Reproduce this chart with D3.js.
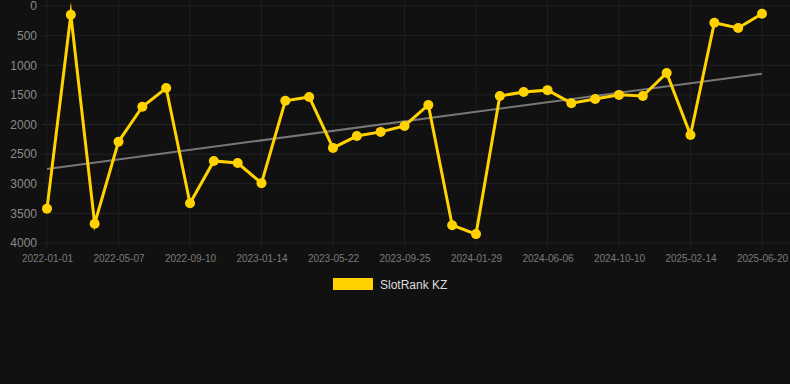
<!DOCTYPE html>
<html>
<head>
<meta charset="utf-8">
<script src="https://cdn.jsdelivr.net/npm/d3@7"></script>
<style>
  html, body { margin: 0; padding: 0; background: #111111; }
  svg { display: block; font-family: "Liberation Sans", Arial, sans-serif; }
</style>
</head>
<body>
<svg id="chart" width="790" height="384"></svg>
<script>
// dates for each point (labels shown every third point)
const dates = [
  "2022-01-01", "2022-02-12", "2022-03-26", "2022-05-07", "2022-06-18", "2022-07-30",
  "2022-09-10", "2022-10-22", "2022-12-03", "2023-01-14", "2023-02-25", "2023-04-08",
  "2023-05-22", "2023-07-03", "2023-08-14", "2023-09-25", "2023-11-06", "2023-12-18",
  "2024-01-29", "2024-03-11", "2024-04-23", "2024-06-06", "2024-07-18", "2024-08-29",
  "2024-10-10", "2024-11-21", "2025-01-02", "2025-02-14", "2025-03-28", "2025-05-09",
  "2025-06-20"
];

// rank values (lower is better, axis reversed)
const ranks = [
  3420, 147, 3675, 2290, 1700, 1385, 3330, 2615, 2650, 2990, 1600,
  1535, 2395, 2195, 2125, 2025, 1670, 3700, 3850, 1520, 1450, 1420,
  1640, 1570, 1500, 1520, 1130, 2177, 282, 371, 130
];

// trend line: value at first and last date
const trendValues = [2750, 1143];

const yTicks = [0, 500, 1000, 1500, 2000, 2500, 3000, 3500, 4000];
const seriesName = "SlotRank KZ";

const svg = d3.select("#chart");
const plotLeft = 47, plotRight = 762, plotTop = 6, plotBottom = 243;

const x = d3.scalePoint().domain(dates).range([plotLeft, plotRight]);
const y = d3.scaleLinear().domain([0, 4000]).range([plotTop, plotBottom]);

const tickDates = dates.filter((d, i) => i % 3 === 0);

// grid
const grid = svg.append("g");
grid.selectAll("line.h")
  .data(yTicks)
  .enter().append("line")
  .attr("x1", 42).attr("x2", 790)
  .attr("y1", d => y(d)).attr("y2", d => y(d))
  .attr("stroke", "#232323").attr("stroke-width", 1);
grid.selectAll("line.v")
  .data(tickDates)
  .enter().append("line")
  .attr("x1", d => x(d)).attr("x2", d => x(d))
  .attr("y1", 0).attr("y2", plotBottom + 5)
  .attr("stroke", "#1e1e1e").attr("stroke-width", 1);

// y axis
const yAxis = svg.append("g")
  .attr("transform", `translate(${plotLeft - 10},0)`)
  .call(d3.axisLeft(y).tickValues(yTicks).tickFormat(d3.format("d")).tickSize(0).tickPadding(0));
yAxis.select(".domain").remove();
yAxis.selectAll("text")
  .attr("fill", "#8a8a8a")
  .style("font-size", "12px");

// x axis
const xAxis = svg.append("g")
  .attr("transform", `translate(0,${plotBottom})`)
  .call(d3.axisBottom(x).tickValues(tickDates).tickSize(0).tickPadding(12));
xAxis.select(".domain").remove();
xAxis.selectAll("text")
  .attr("fill", "#7a7a7a")
  .style("font-size", "10px");

// trend line
svg.append("line")
  .attr("x1", x(dates[0])).attr("y1", y(trendValues[0]))
  .attr("x2", x(dates[dates.length - 1])).attr("y2", y(trendValues[1]))
  .attr("stroke", "#777777").attr("stroke-width", 2);

// series line
const line = d3.line()
  .x((d, i) => x(dates[i]))
  .y(d => y(d));

svg.append("path")
  .datum(ranks)
  .attr("d", line)
  .attr("fill", "none")
  .attr("stroke", "#FFD200")
  .attr("stroke-width", 3)
  .attr("stroke-linejoin", "miter")
  .attr("stroke-miterlimit", 10);

svg.append("g")
  .selectAll("circle")
  .data(ranks)
  .enter().append("circle")
  .attr("cx", (d, i) => x(dates[i]))
  .attr("cy", d => y(d))
  .attr("r", 5)
  .attr("fill", "#FFD200");

// legend
const legend = svg.append("g").attr("transform", "translate(333,278)");
legend.append("rect")
  .attr("width", 40).attr("height", 12)
  .attr("fill", "#FFD200");
legend.append("text")
  .attr("x", 47).attr("y", 10.5)
  .attr("fill", "#dddddd")
  .style("font-size", "12px")
  .text(seriesName);
</script>
</body>
</html>
